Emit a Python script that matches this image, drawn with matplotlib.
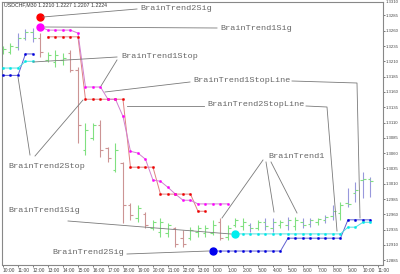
import numpy as np
import matplotlib
matplotlib.use("Agg")
import matplotlib.pyplot as plt
from matplotlib.lines import Line2D

# ---------------- data ----------------
time_labels = ["10:00", "11:00", "12:00", "13:00", "14:00", "15:00", "16:00", "17:00",
               "18:00", "19:00", "20:00", "21:00", "22:00", "23:00", "0:00", "1:00",
               "2:00", "3:00", "4:00", "5:00", "6:00", "7:00", "8:00", "9:00", "10:00", "11:00"]

bar_high = [1.3235, 1.3240, 1.3256, 1.3263, 1.3264, 1.3256, 1.3225, 1.3228, 1.3223, 1.3228,
            1.3201, 1.3109, 1.3109, 1.3114, 1.3070, 1.3076, 1.3045, 1.2978, 1.2975, 1.2964,
            1.2951, 1.2954, 1.2946, 1.2939, 1.2934, 1.2939, 1.2942, 1.2942, 1.2951, 1.2954,
            1.2942, 1.2954, 1.2954, 1.2946, 1.2951, 1.2954, 1.2954, 1.2951, 1.2955, 1.2955,
            1.2954, 1.2954, 1.2954, 1.2959, 1.2975, 1.2980, 1.3003, 1.3013, 1.3029, 1.3021]
bar_low = [1.3222, 1.3222, 1.3228, 1.3245, 1.3241, 1.3217, 1.3209, 1.3201, 1.3204, 1.3192,
           1.3076, 1.3057, 1.3081, 1.3053, 1.3045, 1.3029, 1.2946, 1.2951, 1.2947, 1.2937,
           1.2934, 1.2923, 1.2923, 1.2906, 1.2906, 1.2918, 1.2923, 1.2923, 1.2926, 1.2918,
           1.2918, 1.2939, 1.2934, 1.2931, 1.2934, 1.2934, 1.2931, 1.2937, 1.2934, 1.2934,
           1.2937, 1.2939, 1.2942, 1.2946, 1.2951, 1.2951, 1.2972, 1.2980, 1.2986, 1.2988]
bar_open = [1.3225, 1.3225, 1.3233, 1.3248, 1.3258, 1.3248, 1.3212, 1.3209, 1.3212, 1.3223,
            1.3196, 1.3065, 1.3085, 1.3106, 1.3068, 1.3032, 1.3044, 1.2975, 1.2954, 1.2960,
            1.2937, 1.2931, 1.2929, 1.2937, 1.2921, 1.2921, 1.2931, 1.2929, 1.2929, 1.2947,
            1.2923, 1.2942, 1.2941, 1.2942, 1.2937, 1.2947, 1.2937, 1.2942, 1.2942, 1.2941,
            1.2947, 1.2944, 1.2947, 1.2951, 1.2957, 1.2962, 1.2978, 1.2995, 1.3016, 1.3018]
bar_close = [1.3230, 1.3235, 1.3248, 1.3258, 1.3248, 1.3225, 1.3220, 1.3220, 1.3215, 1.3196,
             1.3106, 1.3098, 1.3106, 1.3065, 1.3052, 1.3065, 1.2975, 1.2959, 1.2970, 1.2942,
             1.2947, 1.2947, 1.2942, 1.2911, 1.2911, 1.2934, 1.2937, 1.2937, 1.2942, 1.2921,
             1.2937, 1.2951, 1.2947, 1.2937, 1.2947, 1.2941, 1.2947, 1.2947, 1.2951, 1.2951,
             1.2942, 1.2951, 1.2952, 1.2955, 1.2965, 1.2975, 1.2977, 1.3000, 1.3018, 1.3014]
# BrainTrend1 bar state: g = up, r = down, b = neutral
bar_state = list("ggbbbrgggrrggrrgrrgrgggrrgggg" "rgggbgbbgbgbbgbbgbbbb")

nan = np.nan
# BrainTrend2Stop (downtrend part, red)
bt2_stop_dn = [nan] * 6 + [1.3250] * 5 + [1.3148] * 6 + [1.3037] * 4 + [1.2993] * 5 + [1.2965] * 2 + [nan] * 22
# BrainTrend1StopLine (downtrend part, magenta)
bt1_stop_dn = [nan] * 5 + [1.3266, 1.3261, 1.3261, 1.3261, 1.3261, 1.3256, 1.3168, 1.3168, 1.3168,
                           1.3148, 1.3148, 1.3120, 1.3063, 1.3060, 1.3050, 1.3016, 1.3014, 1.3004,
                           1.2993, 1.2983, 1.2983, 1.2977, 1.2977, 1.2977, 1.2977, 1.2977] + [nan] * 19
# BrainTrend2Stop (uptrend part, dark blue)
bt2_stop_up = [1.3187, 1.3187, 1.3187, 1.3222, 1.3222] + [nan] * 23 + [1.2900] * 10 + [1.2921] * 8 + [1.2951] * 4
# BrainTrend1Stop (uptrend part, cyan)
bt1_stop_up = [1.3199, 1.3199, 1.3199, 1.3210, 1.3210] + [nan] * 26 + [1.2928] * 15 + [1.2939] * 2 + [1.2947] * 2

sig_index = [5, 5, 28, 31]
sig_price = [1.3282, 1.3266, 1.2900, 1.2928]
sig_color = ["#ff0000", "#ff00ff", "#0000ee", "#00eeee"]

yticks = [1.2885, 1.2910, 1.2935, 1.2960, 1.2985, 1.3010, 1.3035, 1.3060, 1.3085,
          1.3110, 1.3135, 1.3160, 1.3185, 1.3210, 1.3235, 1.3260, 1.3285]

# ---------------- figure ----------------
W, H = 400, 274
fig = plt.figure(figsize=(W / 100, H / 100), dpi=100)
fig.patch.set_facecolor("white")
ax = fig.add_axes([2 / W, (H - 264.5) / H, 381 / W, 262.5 / H])
ax.set_facecolor("white")

n = len(bar_high)
idx = np.arange(n)
col_map = {"g": "#80e080", "r": "#cc9494", "b": "#9898dc"}
tick_map = {"g": "#80e080", "r": "#cc9494", "b": "#80e080"}
vcols = [col_map[s] for s in bar_state]
tcols = [tick_map[s] for s in bar_state]
ax.vlines(idx, bar_low, bar_high, colors=vcols, lw=0.8, zorder=2)
ax.hlines(bar_open, idx - 0.35, idx, colors=tcols, lw=0.8, zorder=2)
ax.hlines(bar_close, idx, idx + 0.35, colors=tcols, lw=0.8, zorder=2)

def stopline(vals, lcol, mcol):
    ax.plot(idx, vals, color=lcol, lw=0.7, zorder=3)
    ax.plot(idx, vals, ls="none", marker="o", ms=1.6, mfc=mcol, mec=mcol, mew=0.3, zorder=4)

stopline(bt2_stop_dn, "#e08080", "#ee0000")
stopline(bt1_stop_dn, "#d080d0", "#ff00ff")
stopline(bt2_stop_up, "#6060d0", "#0000dd")
stopline(bt1_stop_up, "#50e0e0", "#00e8e8")

for i, p, c in zip(sig_index, sig_price, sig_color):
    ax.plot([i], [p], marker="o", ms=5.0, color=c, mec=c, zorder=5)

ax.set_xlim(-0.13, 50.67)
ax.set_ylim(1.28780, 1.33069)

tick_font = "Liberation Sans"
ax.set_xticks(np.arange(0, 2 * len(time_labels), 2))
ax.set_xticklabels(time_labels, ha="left", fontsize=3.5, family=tick_font)
ax.yaxis.tick_right()
ax.set_yticks(yticks)
ax.set_yticklabels([f"{v:.4f}" for v in yticks], fontsize=3.1, family=tick_font)
ax.tick_params(axis="both", colors="#444444", length=1.6, width=0.5, pad=0.6)
ax.tick_params(axis="x", pad=1.0)
fig.text(386 / W, 1 - 2.2 / H, "1.3310", fontsize=3.1, family=tick_font,
         color="#444444", va="center", ha="left")
for s in ax.spines.values():
    s.set_color("#888888")
    s.set_linewidth(0.8)

# title
fig.text(4 / W, 1 - 5 / H, "USDCHF,M30 1.2210 1.2227 1.2207 1.2224", fontsize=3.8,
         family=tick_font, color="#333333", va="center", ha="left")

# ---------------- annotations ----------------
def P(x, y):
    return (x / W, 1 - y / H)

def seg(*pts):
    xs = [p[0] / W for p in pts]
    ys = [1 - p[1] / H for p in pts]
    fig.add_artist(Line2D(xs, ys, color="#7a7a7a", lw=0.6, zorder=10))

def label(x, y, s):
    fig.text(*P(x, y), s, fontsize=6.1, family="Liberation Mono", color="#666666",
             va="center", ha="left", zorder=11)

label(140, 9, "BrainTrend2Sig")
seg((43, 17), (137, 9))
label(220, 28, "BrainTrend1Sig")
seg((45, 27), (217, 28))
label(121, 56, "BrainTrend1Stop")
seg((33, 62), (117, 57))
seg((101, 86), (117, 60))
label(193, 81, "BrainTrend1StopLine")
seg((105, 92), (190, 82))
seg((292, 81), (357, 83), (360, 218))
label(207, 105, "BrainTrend2StopLine")
seg((127, 106), (204, 106))
seg((306, 106), (327, 107), (337, 231))
label(8, 166, "BrainTrend2Stop")
seg((30, 155), (18, 77))
seg((35, 156), (83, 100))
label(8, 210, "BrainTrend1Sig")
seg((68, 221), (231, 234))
label(52, 252, "BrainTrend2Sig")
seg((127, 254), (209, 251))
label(268, 156, "BrainTrend1")
seg((263, 160), (222, 218))
seg((266, 162), (274, 212))
seg((271, 162), (297, 213))

fig.savefig("out.png", dpi=100, facecolor="white")
